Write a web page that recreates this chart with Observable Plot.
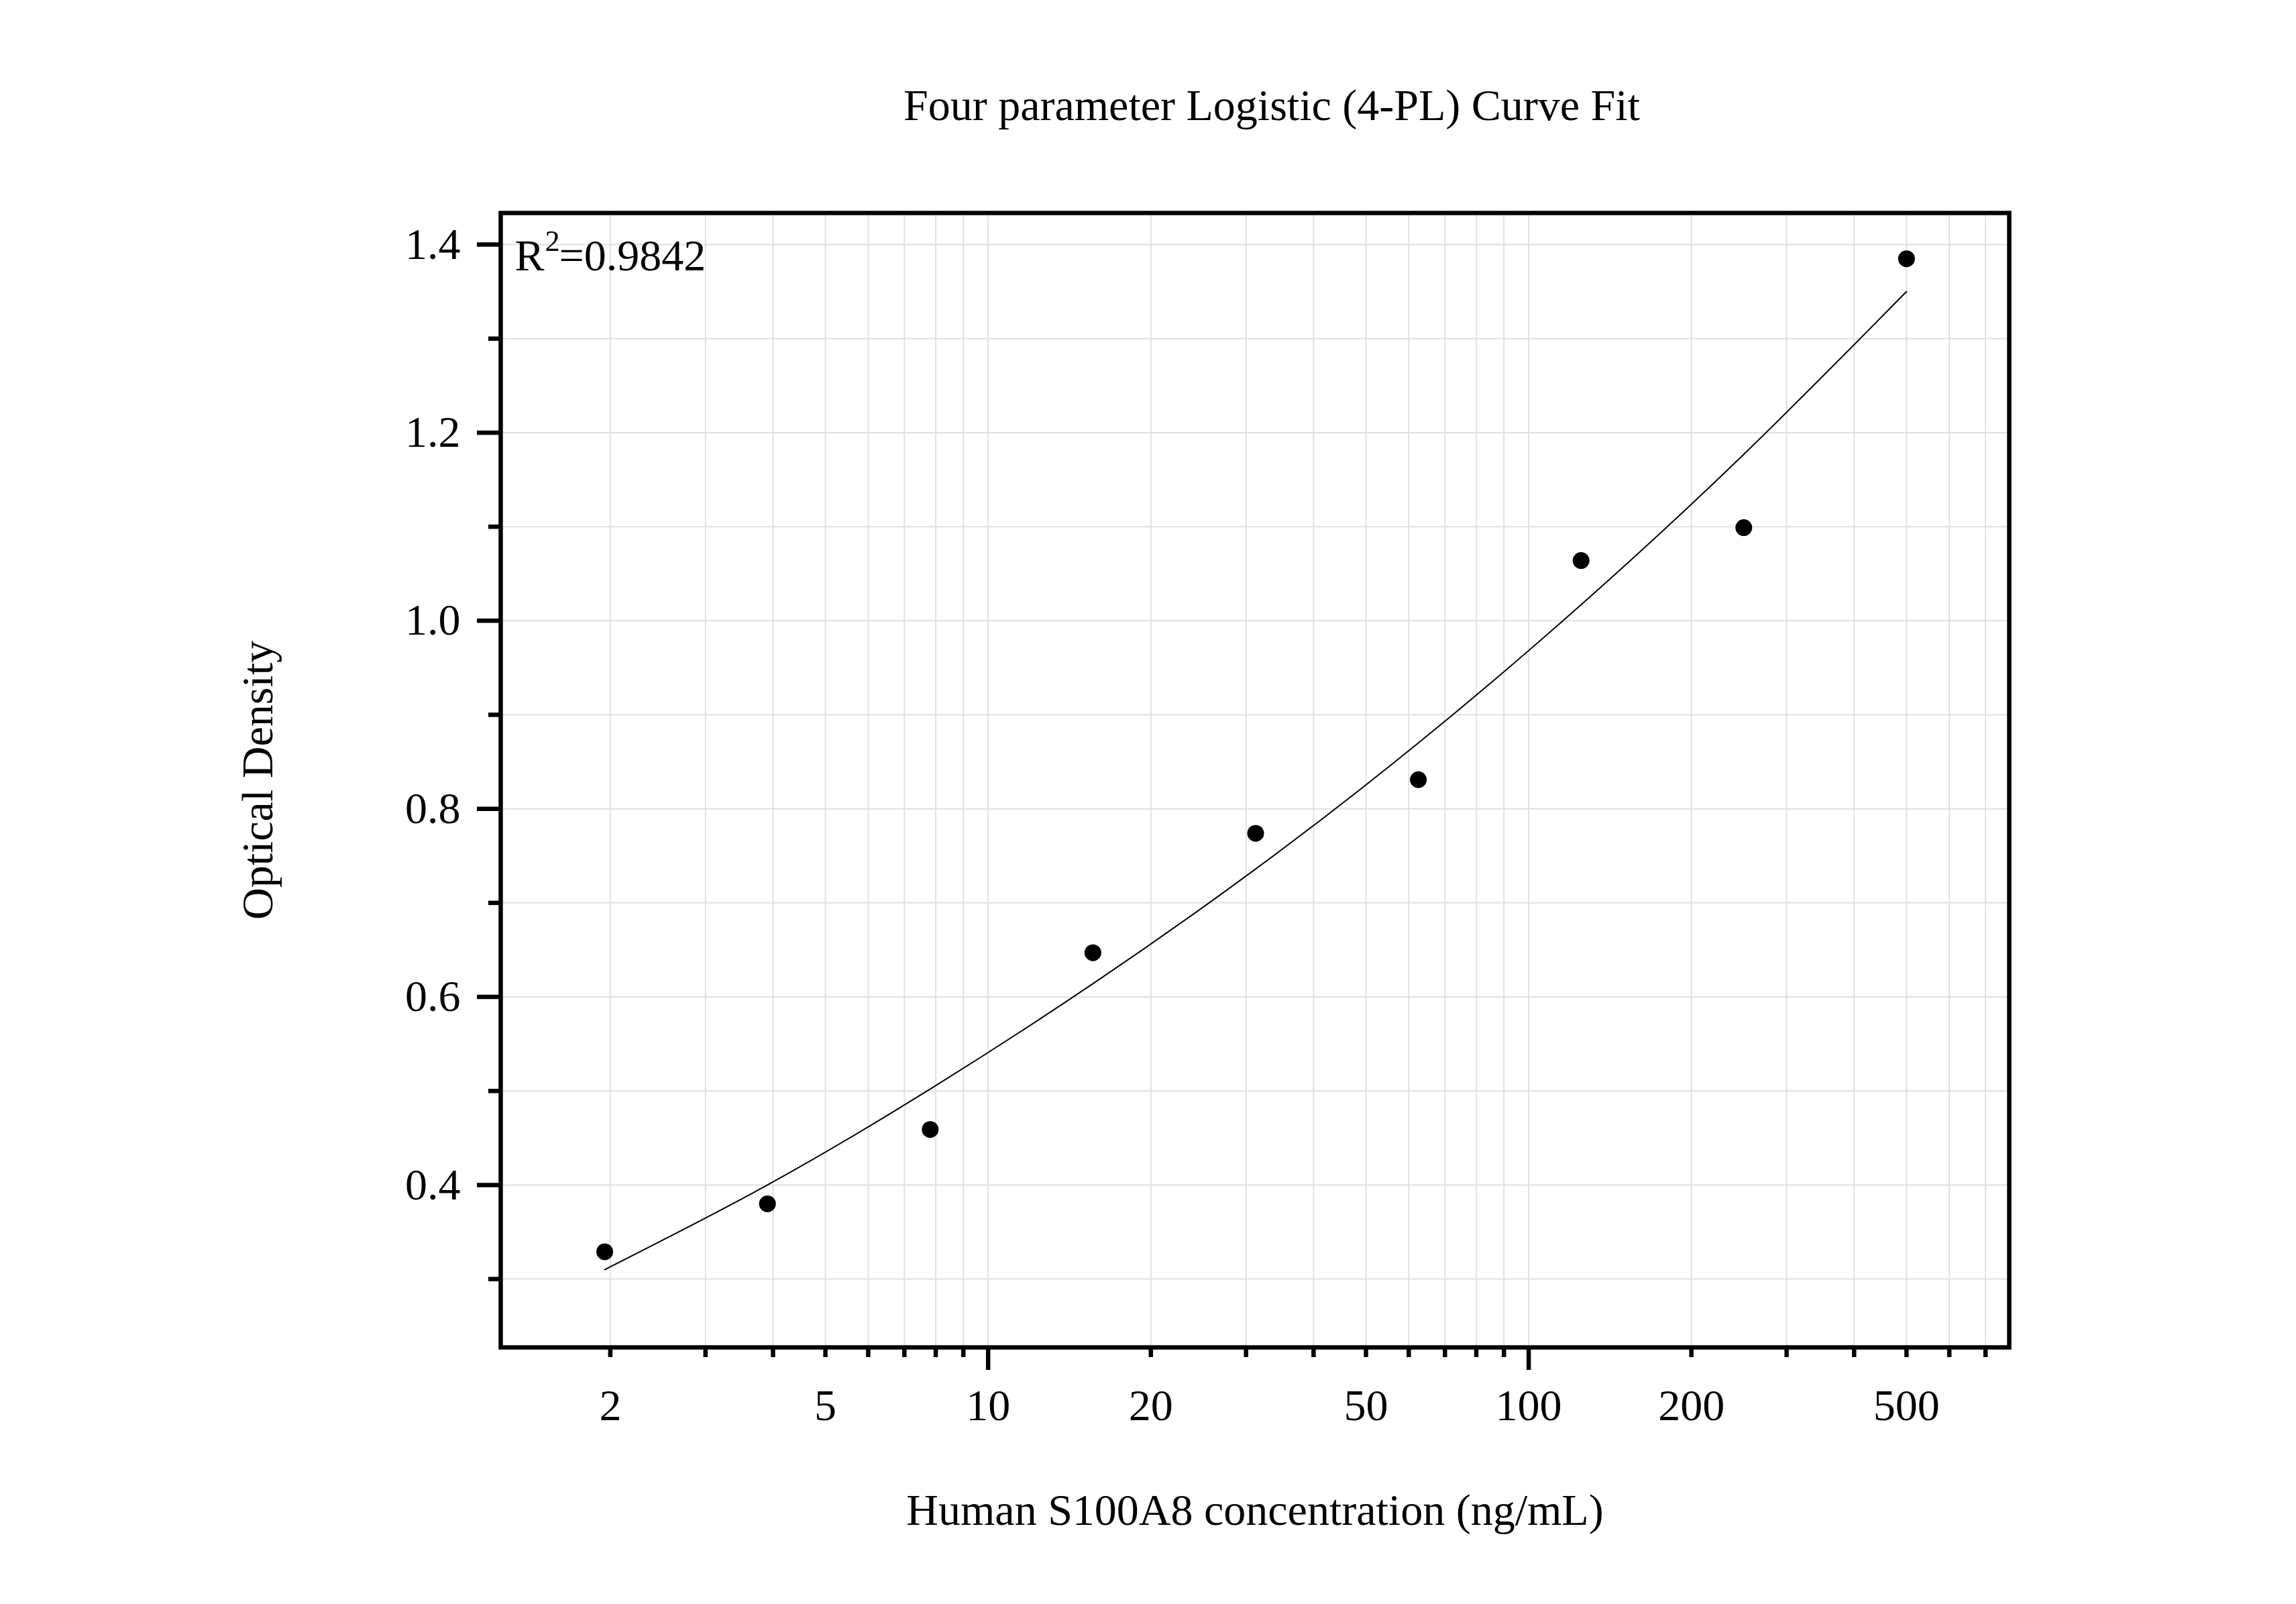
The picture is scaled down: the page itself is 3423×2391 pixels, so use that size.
<!DOCTYPE html>
<html>
<head>
<meta charset="utf-8">
<script src="https://cdn.jsdelivr.net/npm/d3@7"></script>
<script src="https://cdn.jsdelivr.net/npm/@observablehq/plot@0.6"></script>
<style>
  html, body { margin: 0; padding: 0; background: white; }
  #title {
    box-sizing: border-box;
    width: 3423px;
    height: 230px;
    padding-top: 124px;
    padding-left: 369px;
    text-align: center;
    font-family: "Liberation Serif", "Times New Roman", serif;
    font-size: 66px;
    line-height: 66px;
    color: black;
  }
</style>
</head>
<body>
<div id="title">Four parameter Logistic (4-PL) Curve Fit</div>
<div id="chart"></div>
<script>
// Measured standards
const concentration = [1.953, 3.906, 7.813, 15.625, 31.25, 62.5, 125, 250, 500];
const opticalDensity = [0.329, 0.380, 0.459, 0.647, 0.774, 0.831, 1.064, 1.099, 1.385];

// Fitted 4-PL curve at each standard
const fitConcentration = [1.953, 3.906, 7.813, 15.625, 31.25, 62.5, 125, 250, 500];
const fitOD = [0.310, 0.400, 0.502, 0.614, 0.736, 0.870, 1.017, 1.177, 1.350];

// Axis ticks
const xTickLabels = [2, 5, 10, 20, 50, 100, 200, 500];
const xMajorTicks = [10, 100];
const xMinorTicks = [2, 3, 4, 5, 6, 7, 8, 9, 20, 30, 40, 50, 60, 70, 80, 90, 200, 300, 400, 500, 600, 700];
const xGridTicks = [2, 3, 4, 5, 6, 7, 8, 9, 10, 20, 30, 40, 50, 60, 70, 80, 90, 100, 200, 300, 400, 500, 600, 700];
const yMajorTicks = [0.4, 0.6, 0.8, 1.0, 1.2, 1.4];
const yMinorTicks = [0.3, 0.5, 0.7, 0.9, 1.1, 1.3];
const yGridTicks = [0.3, 0.4, 0.5, 0.6, 0.7, 0.8, 0.9, 1.0, 1.1, 1.2, 1.3, 1.4];

const xDomain = [1.254, 774.5];
const yDomain = [0.2273, 1.4336];

const xLabel = "Human S100A8 concentration (ng/mL)";
const yLabel = "Optical Density";

const points = concentration.map((c, i) => ({c, od: opticalDensity[i]}));
const fit = fitConcentration.map((c, i) => ({c, od: fitOD[i]}));

const gridColor = "#e0e0e0";
const font = "Liberation Serif";

const chart = Plot.plot({
  width: 3423,
  height: 2161,
  marginLeft: 746,
  marginRight: 428,
  marginTop: 87,
  marginBottom: 383,
  style: {fontFamily: font, fontSize: "66px", background: "white", color: "black", overflow: "visible"},
  x: {type: "log", domain: xDomain},
  y: {domain: yDomain},
  marks: [
    Plot.gridX({ticks: xGridTicks, stroke: gridColor, strokeOpacity: 1, strokeWidth: 2}),
    Plot.gridY({ticks: yGridTicks, stroke: gridColor, strokeOpacity: 1, strokeWidth: 2}),
    Plot.line(fit, {x: "c", y: "od", stroke: "black", strokeWidth: 2, curve: "natural"}),
    Plot.dot(points, {x: "c", y: "od", r: 12.5, fill: "black", stroke: "none"}),
    Plot.frame({stroke: "black", strokeWidth: 6.5}),
    // x axis ticks and labels
    Plot.axisX({ticks: xMinorTicks, tickSize: 15, strokeWidth: 6.5, fill: "none", label: null}),
    Plot.axisX({ticks: xMajorTicks, tickSize: 34, strokeWidth: 6.5, fill: "none", label: null}),
    Plot.text(xTickLabels, {x: d => d, frameAnchor: "bottom", dy: 62, lineAnchor: "top", textAnchor: "middle", text: d => String(d), fontSize: 66, fill: "black"}),
    // y axis ticks and labels
    Plot.axisY({ticks: yMinorTicks, tickSize: 18, strokeWidth: 6.5, fill: "none", label: null}),
    Plot.axisY({ticks: yMajorTicks, tickSize: 35, strokeWidth: 6.5, fill: "none", label: null}),
    Plot.text(yMajorTicks, {y: d => d, frameAnchor: "left", dx: -60, lineAnchor: "middle", textAnchor: "end", text: d => d3.format(".1f")(d), fontSize: 66, fill: "black"}),
    // axis titles
    Plot.text([xLabel], {frameAnchor: "bottom", dy: 264, lineAnchor: "bottom", textAnchor: "middle", fontSize: 66, fill: "black"}),
    Plot.text([yLabel], {frameAnchor: "left", dx: -341, rotate: -90, lineAnchor: "bottom", textAnchor: "middle", fontSize: 66, fill: "black"}),
    // R squared annotation
    Plot.text(["R"], {frameAnchor: "top-left", dx: 21, dy: 85, lineAnchor: "bottom", textAnchor: "start", fontSize: 66, fill: "black"}),
    Plot.text(["2"], {frameAnchor: "top-left", dx: 66, dy: 56, lineAnchor: "bottom", textAnchor: "start", fontSize: 44, fill: "black"}),
    Plot.text(["=0.9842"], {frameAnchor: "top-left", dx: 87, dy: 85, lineAnchor: "bottom", textAnchor: "start", fontSize: 66, fill: "black"})
  ]
});
document.getElementById("chart").appendChild(chart);
</script>
</body>
</html>
